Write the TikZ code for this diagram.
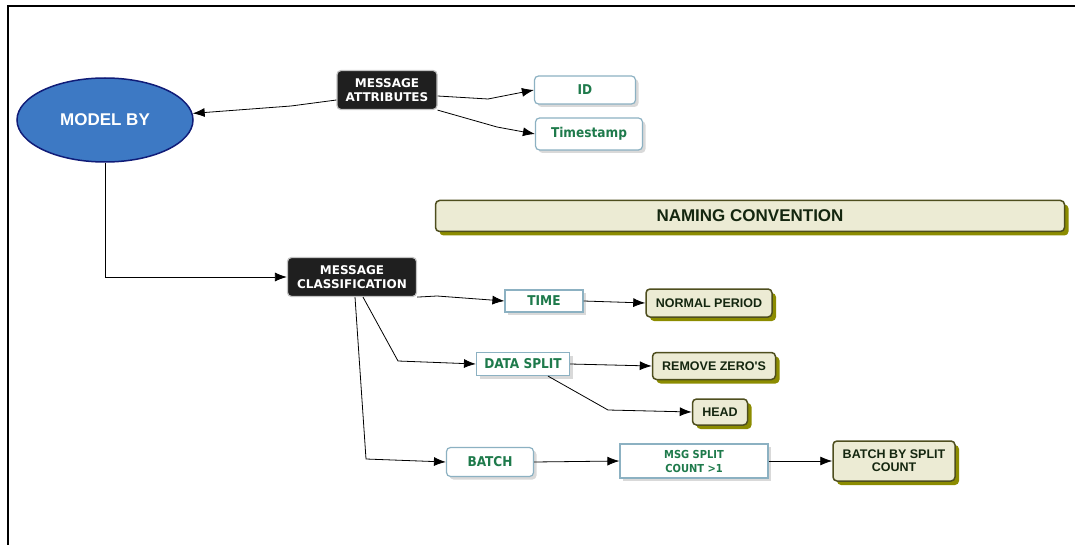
\documentclass[tikz,border=0pt]{standalone}
\usepackage{fontspec}
\setmainfont{Liberation Sans}
\newfontfamily\verdfont{DejaVu Sans}
\newfontfamily\condfont{DejaVu Sans Condensed}
\usetikzlibrary{shapes.geometric,shadows,arrows.meta}

\definecolor{modelblue}{HTML}{3D79C4}
\definecolor{modelline}{HTML}{101C78}
\definecolor{topicgray}{HTML}{C4C4C4}
\definecolor{itemline}{HTML}{8CB1C2}
\definecolor{itemtext}{HTML}{1E7A4B}
\definecolor{notefill}{HTML}{ECEBD4}
\definecolor{noteline}{HTML}{4E4E1E}
\definecolor{noteshadow}{HTML}{8C8C00}
\definecolor{notetext}{HTML}{14260F}

\begin{document}
\begin{tikzpicture}[x=1pt, y=-1pt,
    link/.style={line width=0.8pt, -{Latex[length=12pt,width=9pt]}},
    topic/.style={draw=topicgray, line width=1.2pt, fill=black!88, rounded corners=4pt,
        text=white, align=center, inner sep=0pt,
        font=\verdfont\bfseries\fontsize{12}{14}\selectfont},
    item/.style={draw=itemline, line width=1.2pt, fill=white, text=itemtext,
        align=center, inner sep=0pt, font=\condfont\bfseries\fontsize{13.5}{16}\selectfont,
        drop shadow={shadow xshift=3pt, shadow yshift=-3pt, fill=black!15, opacity=1}},
    note/.style={draw=noteline, line width=1.5pt, fill=notefill, text=notetext,
        rounded corners=4pt, align=center, inner sep=0pt,
        font=\bfseries\fontsize{12.5}{13}\selectfont,
        drop shadow={shadow xshift=4pt, shadow yshift=-4pt, fill=noteshadow, opacity=1}}]
        \useasboundingbox (0,0) rectangle (1075,545);
        \draw[line width=1.2pt] (8,545) -- (8,6) -- (1075,6);

        \node[ellipse, draw=modelline, line width=1.5pt, fill=modelblue, text=white,
            minimum width=176pt, minimum height=84pt,
            font=\bfseries\fontsize{17}{20}\selectfont] (model) at (105,120) {MODEL BY};
        \node[topic, minimum width=100pt, minimum height=39pt] (attr) at (387,90) {MESSAGE\\ATTRIBUTES};
        \node[item, rounded corners=4pt, minimum width=101pt, minimum height=28pt] (id) at (585,90) {ID};
        \node[item, rounded corners=4pt, minimum width=107pt, minimum height=32pt] (stamp) at (589,134) {Timestamp};
        \node[note, minimum width=629pt, minimum height=31pt,
            font=\bfseries\fontsize{17}{20}\selectfont] (naming) at (750,216) {NAMING CONVENTION};
        \node[topic, minimum width=129pt, minimum height=39pt] (class) at (352,277) {MESSAGE\\CLASSIFICATION};
        \node[item, minimum width=78pt, minimum height=22pt] (time) at (544,301) {TIME};
        \node[note, minimum width=126pt, minimum height=28pt] (normal) at (709,303) {NORMAL PERIOD};
        \node[item, minimum width=93pt, minimum height=23pt] (split) at (523,364) {DATA SPLIT};
        \node[note, minimum width=123pt, minimum height=27pt] (zeros) at (714,366) {REMOVE ZERO\textquotesingle S};
        \node[note, minimum width=55pt, minimum height=26pt] (head) at (720,412) {HEAD};
        \node[item, rounded corners=4pt, minimum width=87pt, minimum height=29pt] (batch) at (490,462) {BATCH};
        \node[item, minimum width=148pt, minimum height=34pt,
            font=\condfont\bfseries\fontsize{11}{14}\selectfont] (count) at (694,461) {MSG SPLIT\\COUNT >1};
        \node[note, minimum width=122pt, minimum height=40pt] (bysplit) at (894,461) {BATCH BY SPLIT\\COUNT};

        \coordinate (k1) at (291,106);
        \coordinate (k2) at (488,99);
        \coordinate (k3) at (497,127);
        \coordinate (k4) at (105,277);
        \coordinate (k5) at (437,296);
        \coordinate (k6) at (398,361);
        \coordinate (k7) at (366,459);
        \coordinate (k8) at (608,410);

        \draw[link] ([yshift=-10pt]attr.west) -- (k1) -- (model);
        \draw[link] ([yshift=-6pt]attr.east) -- (k2) -- (id.west);
        \draw[link] (attr.south east) -- (k3) -- (stamp.west);
        \draw[link] (model.south) -- (k4) -- (class.west);
        \draw[link] (class.south east) -- (k5) -- (time.west);
        \draw[link] (time.east) -- (normal.west);
        \draw[link] ([xshift=11pt]class.south) -- (k6) -- (split.west);
        \draw[link] ([xshift=3pt]class.south) -- (k7) -- (batch.west);
        \draw[link] (split.east) -- (zeros.west);
        \draw[link] ([xshift=25pt]split.south) -- (k8) -- (head.west);
        \draw[link] (batch.east) -- (count.west);
        \draw[link] (count.east) -- (bysplit.west);
\end{tikzpicture}
\end{document}
